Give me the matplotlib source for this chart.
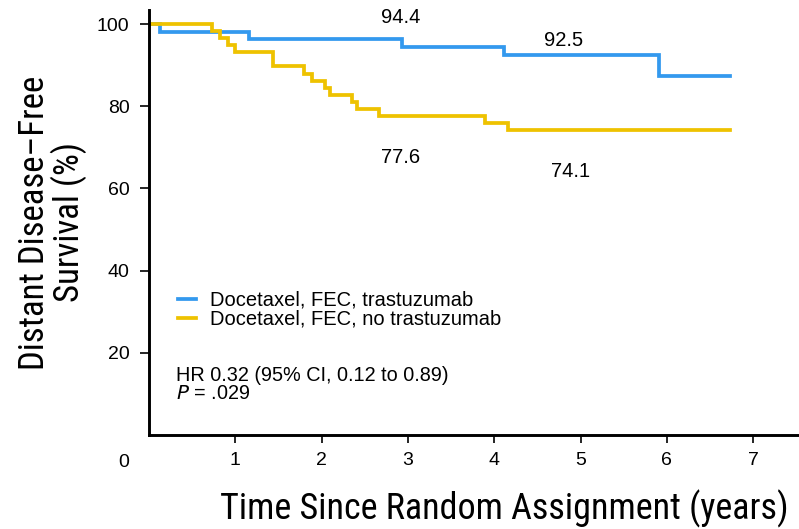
import matplotlib
matplotlib.use("Agg")
import matplotlib.pyplot as plt
from matplotlib import font_manager

# Distant disease-free survival, Kaplan-Meier steps (time in years, survival in %)
herceptin_t = [0, 0.13, 1.16, 2.93, 4.11, 5.91, 6.73]
herceptin_s = [100, 98.1, 96.3, 94.4, 92.5, 87.4, 87.4]

control_t = [0, 0.73, 0.82, 0.92, 1.00, 1.44, 1.79, 1.89, 2.04, 2.10,
             2.35, 2.41, 2.66, 3.89, 4.16, 6.73]
control_s = [100, 98.3, 96.6, 94.8, 93.1, 89.7, 87.9, 86.2, 84.5, 82.8,
             81.0, 79.3, 77.6, 75.8, 74.1, 74.1]

labels = ["Docetaxel, FEC, trastuzumab", "Docetaxel, FEC, no trastuzumab"]
x_ticks = [1, 2, 3, 4, 5, 6, 7]
y_ticks = [20, 40, 60, 80, 100]

BLUE = "#3399ee"
GOLD = "#eec200"

installed = {f.name for f in font_manager.fontManager.ttflist}
narrow = [f for f in ["Liberation Sans Narrow", "DejaVu Sans Condensed", "Roboto Condensed"]
          if f in installed] + ["DejaVu Sans"]
plt.rcParams["font.family"] = ["Liberation Sans", "DejaVu Sans"]

fig = plt.figure(figsize=(7.99, 5.29), dpi=100)
ax = fig.add_axes([0.1865, 0.178, 0.8135, 0.803])

ax.step(herceptin_t, herceptin_s, where="post", color=BLUE, lw=2.7,
        label=labels[0], solid_joinstyle="miter")
ax.step(control_t, control_s, where="post", color=GOLD, lw=2.7,
        label=labels[1], solid_joinstyle="miter")

ax.set_xlim(0, 7.53)
ax.set_ylim(0, 103.4)
ax.set_xticks(x_ticks)
ax.set_yticks(y_ticks)
ax.tick_params(axis="both", labelsize=14, width=1.2, color="black")
ax.tick_params(axis="y", length=6.5, pad=7.5)
ax.tick_params(axis="x", length=6, pad=6.5)
for side in ["top", "right"]:
    ax.spines[side].set_visible(False)
for side in ["left", "bottom"]:
    ax.spines[side].set_linewidth(2.1)

# origin label sits left of the corner
ax.text(-0.29, -0.065, "0", transform=ax.get_xaxis_transform(), fontsize=14,
        ha="center", va="center")

# survival at 3 and 5 years
ax.text(2.91, 101.5, f"{herceptin_s[3]}", fontsize=14.5, ha="center", va="center")
ax.text(4.80, 96.0, f"{herceptin_s[4]}", fontsize=14.5, ha="center", va="center")
ax.text(2.91, 67.6, f"{control_s[12]}", fontsize=14.5, ha="center", va="center")
ax.text(4.88, 64.0, f"{control_s[14]}", fontsize=14.5, ha="center", va="center")

ax.legend(loc="center left", bbox_to_anchor=(0.044, 0.294), frameon=False,
          fontsize=14.5, handlelength=0.9, handletextpad=0.7, labelspacing=0.0,
          borderaxespad=0, borderpad=0)

ax.text(0.042, 0.118, "HR 0.32 (95% CI, 0.12 to 0.89)\n$P$ = .029",
        transform=ax.transAxes, fontsize=14.3, ha="left", va="center",
        linespacing=0.95)

ax.set_xlabel("Time Since Random Assignment (years)", family=narrow,
              fontsize=26, labelpad=12)
ax.xaxis.set_label_coords(0.546, -0.13)
ax.set_ylabel("Distant Disease\u2013Free\nSurvival (%)", family=narrow,
              fontsize=25, labelpad=7, linespacing=1.0)

fig.savefig("out.png", dpi=100)
